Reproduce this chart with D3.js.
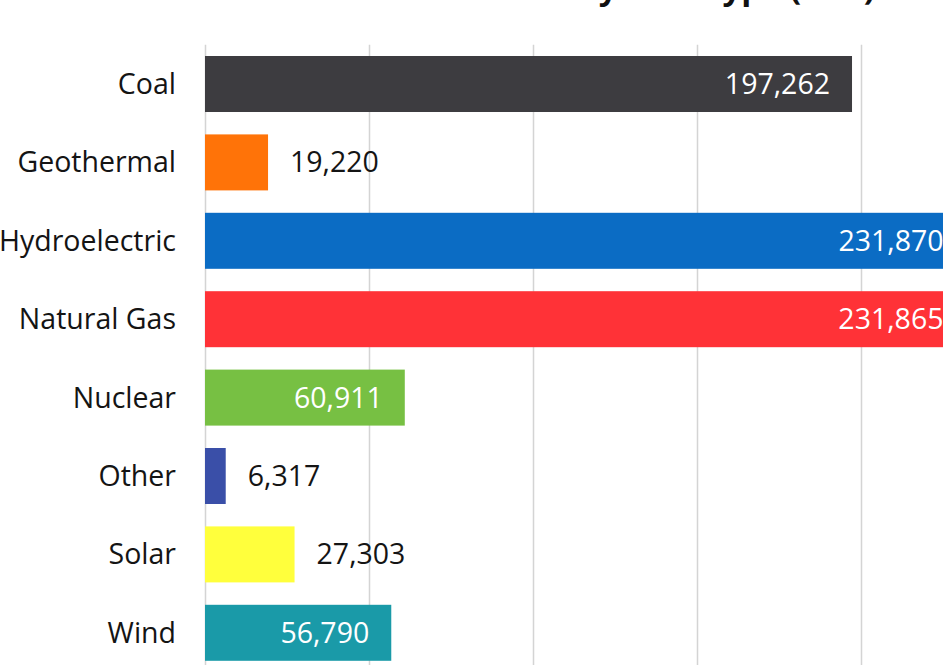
<!DOCTYPE html>
<meta charset="utf-8" />
<style>
  body {
    background: #fff;
    margin: 0px;
    overflow: hidden;
  }

  .grid line {
    stroke: #d4d4d4;
    stroke-width: 1.5px;
  }

  .grid path {
    display: none;
  }

  .label {
    font-family: "Open Sans", sans-serif;
    font-size: 28.5px;
    fill: #141414;
  }

  .title {
    font-family: "Open Sans", sans-serif;
    font-size: 31px;
    font-weight: bold;
    fill: #111;
  }
</style>
<body></body>
<script src="https://d3js.org/d3.v7.min.js"></script>
<script>
  var width = 943,
    height = 665;

  // data
  var categories = [
    "Coal",
    "Geothermal",
    "Hydroelectric",
    "Natural Gas",
    "Nuclear",
    "Other",
    "Solar",
    "Wind",
  ];
  var values = [197262, 19220, 231870, 231865, 60911, 6317, 27303, 56790];
  var colors = [
    "#3d3c40",
    "#ff7308",
    "#0b6cc4",
    "#ff3237",
    "#77c043",
    "#3a4fa8",
    "#ffff3c",
    "#1a9aa8",
  ];
  var gridTicks = [0, 50000, 100000, 150000, 200000, 250000];
  var title = "Installed Electric Generation by Fuel Type (MW)";

  var rows = categories.map(function (c, i) {
    return { name: c, value: values[i], color: colors[i] };
  });

  var svg = d3
    .select("body")
    .append("svg")
    .attr("width", width)
    .attr("height", height);

  var x = d3.scaleLinear().domain([0, 250000]).range([205, 1025]);

  var y = d3
    .scaleBand()
    .domain(categories)
    .range([44.8, 672])
    .paddingInner(0.2857)
    .paddingOuter(0.1429);

  // title, mostly cut off by the top edge
  svg
    .append("text")
    .attr("class", "title")
    .attr("x", 103)
    .attr("y", 0)
    .attr("textLength", 772)
    .attr("lengthAdjust", "spacingAndGlyphs")
    .text(title);

  svg
    .append("g")
    .attr("class", "grid")
    .attr("transform", "translate(0,44.8)")
    .call(
      d3
        .axisBottom(x)
        .tickValues(gridTicks)
        .tickSize(640)
        .tickFormat("")
    );

  var bar = svg
    .selectAll(".bar")
    .data(rows)
    .enter()
    .append("g")
    .attr("class", "bar");

  bar
    .append("rect")
    .attr("x", x(0))
    .attr("y", function (d) {
      return y(d.name);
    })
    .attr("width", function (d) {
      return x(d.value) - x(0);
    })
    .attr("height", y.bandwidth())
    .attr("fill", function (d) {
      return d.color;
    });

  // category names
  bar
    .append("text")
    .attr("class", "label")
    .attr("x", 176)
    .attr("y", function (d) {
      return y(d.name) + y.bandwidth() / 2;
    })
    .attr("dy", "0.35em")
    .attr("text-anchor", "end")
    .text(function (d) {
      return d.name;
    });

  // value labels: inside the bar when it fits, otherwise after it
  var fmt = d3.format(",");
  bar
    .append("text")
    .attr("class", "label")
    .attr("y", function (d) {
      return y(d.name) + y.bandwidth() / 2;
    })
    .attr("dy", "0.35em")
    .text(function (d) {
      return fmt(d.value);
    })
    .each(function (d) {
      var t = d3.select(this);
      var w = this.getComputedTextLength();
      var barW = x(d.value) - x(0);
      if (barW > w + 40) {
        t.attr("x", x(d.value) - 22)
          .attr("text-anchor", "end")
          .style("fill", "#fff");
      } else {
        t.attr("x", x(d.value) + 22).attr("text-anchor", "start");
      }
    });
</script>
